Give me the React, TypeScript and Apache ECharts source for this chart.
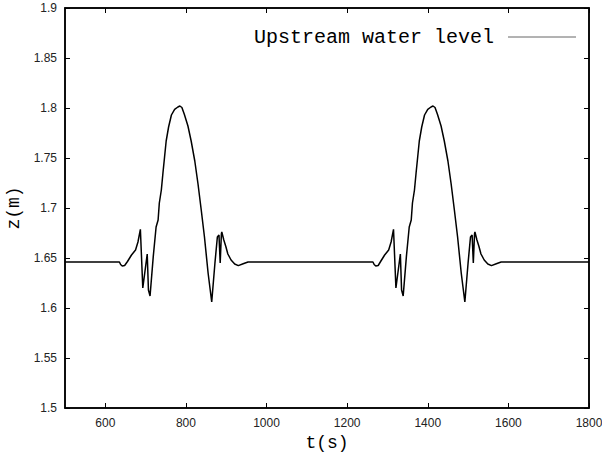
import React, { useEffect, useRef } from "react";
import * as echarts from "echarts";

// Upstream water level (first surge event)
const t1 = [500, 635, 638, 642, 648, 655, 665, 675, 681, 687, 693, 704, 707, 711, 719, 726, 731, 734, 739, 743, 747, 751, 757, 764, 772, 780, 785, 790, 796, 805, 813, 822, 830, 838, 846, 855, 864, 872, 878, 882, 885, 888, 889, 894, 899, 904, 912, 921, 930, 942, 954, 966];
const z1 = [1.646, 1.646, 1.6435, 1.642, 1.6425, 1.6465, 1.653, 1.658, 1.666, 1.6787, 1.620, 1.654, 1.618, 1.612, 1.6516, 1.681, 1.688, 1.705, 1.718, 1.735, 1.751, 1.767, 1.781, 1.793, 1.7987, 1.801, 1.802, 1.8005, 1.7937, 1.782, 1.767, 1.747, 1.724, 1.698, 1.671, 1.635, 1.606, 1.645, 1.671, 1.673, 1.645, 1.674, 1.676, 1.668, 1.6615, 1.654, 1.648, 1.644, 1.6424, 1.6443, 1.646, 1.646];

// Upstream water level (second surge event)
const t2 = [966, 1264, 1267, 1271, 1277, 1283, 1293, 1303, 1309, 1315, 1321, 1332, 1335, 1339, 1347, 1354, 1359, 1362, 1367, 1371, 1375, 1379, 1385, 1392, 1400, 1408, 1413, 1418, 1424, 1433, 1441, 1450, 1458, 1466, 1474, 1483, 1492, 1500, 1506, 1510, 1513, 1516, 1517, 1522, 1527, 1532, 1540, 1549, 1558, 1570, 1582, 1595, 1800];
const z2 = [1.646, 1.646, 1.6435, 1.642, 1.6425, 1.6465, 1.653, 1.658, 1.666, 1.6787, 1.620, 1.654, 1.618, 1.612, 1.6516, 1.681, 1.688, 1.705, 1.718, 1.735, 1.751, 1.767, 1.781, 1.793, 1.7987, 1.801, 1.802, 1.8005, 1.7937, 1.782, 1.767, 1.747, 1.724, 1.698, 1.671, 1.635, 1.606, 1.645, 1.671, 1.673, 1.645, 1.674, 1.676, 1.668, 1.6615, 1.654, 1.648, 1.644, 1.6424, 1.6443, 1.646, 1.646, 1.646];

const xTicks = [600, 800, 1000, 1200, 1400, 1600, 1800];
const seriesName = "Upstream water level";

export default function App() {
  const ref = useRef<HTMLDivElement>(null);
  useEffect(() => {
    if (!ref.current) return;
    const chart = echarts.init(ref.current, null, { renderer: "svg" });
    const data: [number, number][] = [];
    t1.forEach((t, i) => data.push([t, z1[i]]));
    t2.forEach((t, i) => { if (i > 0) data.push([t, z2[i]]); });
    const labelStyle = { color: "#222", fontFamily: "Liberation Sans", fontSize: 12 };
    chart.setOption({
      animation: false,
      backgroundColor: "#fff",
      grid: { left: 65, top: 8, right: 13, bottom: 44, show: true, borderColor: "#000", borderWidth: 1.5, containLabel: false, outerBoundsMode: "none" },
      xAxis: [
        {
          type: "value", min: 500, max: 1800,
          axisLine: { show: true, lineStyle: { color: "#000", width: 1.5 } },
          axisTick: { show: true, inside: true, length: 5, customValues: xTicks, lineStyle: { color: "#000" } },
          axisLabel: { ...labelStyle, margin: 9, customValues: xTicks, formatter: (v: number) => String(v) },
          splitLine: { show: false },
          name: "t(s)", nameLocation: "middle", nameGap: 21,
          nameTextStyle: { fontFamily: "Liberation Mono", fontSize: 18, color: "#000" },
        },
        {
          type: "value", min: 500, max: 1800, position: "top",
          axisLine: { show: true, lineStyle: { color: "#000", width: 1.5 } },
          axisTick: { show: true, inside: true, length: 5, customValues: xTicks, lineStyle: { color: "#000" } },
          axisLabel: { show: false },
          splitLine: { show: false },
        },
      ],
      yAxis: [
        {
          type: "value", min: 1.5, max: 1.9, interval: 0.05,
          axisLine: { show: true, lineStyle: { color: "#000", width: 1.5 } },
          axisTick: { show: true, inside: true, length: 5, lineStyle: { color: "#000" } },
          axisLabel: { ...labelStyle, margin: 8, formatter: (v: number) => String(Math.round(v * 100) / 100) },
          splitLine: { show: false },
          name: "z(m)", nameLocation: "middle", nameGap: 37, nameRotate: 90,
          nameTextStyle: { fontFamily: "Liberation Mono", fontSize: 18, color: "#000" },
        },
        {
          type: "value", min: 1.5, max: 1.9, interval: 0.05, position: "right",
          axisLine: { show: true, lineStyle: { color: "#000", width: 1.5 } },
          axisTick: { show: true, inside: true, length: 5, lineStyle: { color: "#000" } },
          axisLabel: { show: false },
          splitLine: { show: false },
        },
      ],
      series: [
        {
          name: seriesName, type: "line", data, showSymbol: false, symbol: "none",
          lineStyle: { color: "#000", width: 1.5 }, smooth: false,
        },
      ],
      graphic: [
        {
          type: "text", right: 108, top: 27,
          style: { text: seriesName, font: "20px 'Liberation Mono'", fill: "#000", textAlign: "right" },
        },
        {
          type: "line", shape: { x1: 508, y1: 37, x2: 576, y2: 37 },
          style: { stroke: "#666", lineWidth: 1 },
        },
      ],
    });
    return () => chart.dispose();
  }, []);
  return <div ref={ref} style={{ width: 602, height: 452, position: "absolute", left: 0, top: 0 }} />;
}
